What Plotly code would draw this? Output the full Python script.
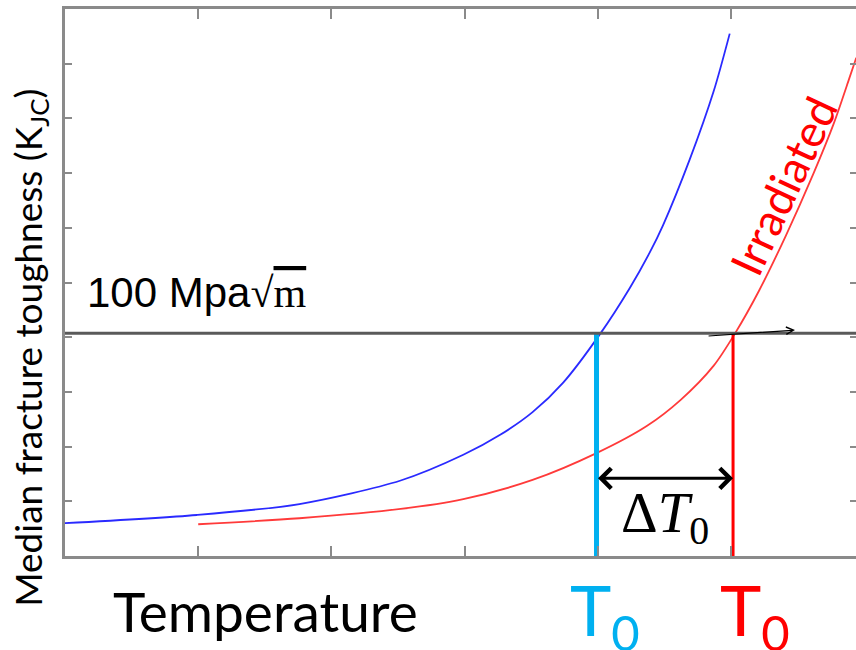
import plotly.graph_objects as go

# ---- data (temperature in tick units, toughness in tick units) ----
T_unirradiated = [0.00, 0.99, 1.76, 2.52, 2.99, 3.27, 3.51, 3.74, 4.02, 4.24, 4.39, 4.49, 4.69, 4.87, 4.99]
K_unirradiated = [0.60, 0.75, 0.95, 1.38, 1.85, 2.22, 2.63, 3.17, 4.07, 4.90, 5.55, 6.05, 7.25, 8.50, 9.55]

T_irradiated = [1.00, 1.76, 2.52, 2.99, 3.51, 3.99, 4.37, 4.62, 4.87, 5.03, 5.21, 5.41, 5.62, 5.77, 5.89, 5.94]
K_irradiated = [0.58, 0.69, 0.86, 1.04, 1.39, 1.88, 2.38, 2.85, 3.48, 4.07, 4.85, 5.85, 7.00, 7.90, 8.75, 9.11]

K_ref = 4.07          # 100 MPa sqrt(m) level
T0_unirr = 3.99
T0_irr = 5.015
K_arrow = 1.42
hand_arrow_T = [4.82, 5.48]
hand_arrow_K = [4.02, 4.13]

x_range = [0, 5.938]
y_range = [0, 10]
tick_vals_x = [0, 1, 2, 3, 4, 5]
tick_vals_y = [1, 2, 3, 4, 5, 6, 7, 8, 9]

CYAN = "#00B0F0"
RED = "#FF0000"
AX = "#8a8a8a"
SANS = "Lato, Liberation Sans, sans-serif"

fig = go.Figure()

# reference level line
fig.add_shape(type="line", xref="paper", x0=0, x1=1, yref="y", y0=K_ref, y1=K_ref,
              line=dict(color="#5a5a5a", width=3), layer="above")

fig.add_trace(go.Scatter(x=T_unirradiated, y=K_unirradiated, mode="lines",
                         line=dict(color="#2a2aff", width=1.8, shape="spline", smoothing=0.8),
                         showlegend=False))
fig.add_trace(go.Scatter(x=T_irradiated, y=K_irradiated, mode="lines",
                         line=dict(color="#ff3a3a", width=1.8, shape="spline", smoothing=0.8),
                         showlegend=False))

# T0 vertical lines
fig.add_trace(go.Scatter(x=[T0_unirr, T0_unirr], y=[0, K_ref], mode="lines",
                         line=dict(color=CYAN, width=5), showlegend=False))
fig.add_trace(go.Scatter(x=[T0_irr, T0_irr], y=[0, K_ref], mode="lines",
                         line=dict(color=RED, width=3), showlegend=False))

# dummy trace for right-side ticks
fig.add_trace(go.Scatter(x=[None], y=[None], yaxis="y2", showlegend=False))

annotations = []
# double arrow for delta T0
annotations.append(dict(x=T0_irr, y=K_arrow, ax=T0_unirr, ay=K_arrow, xref="x", yref="y",
                        axref="x", ayref="y", text="", showarrow=True, arrowhead=4,
                        arrowside="end+start", arrowsize=1.3, arrowwidth=3, arrowcolor="black",
                        startarrowhead=4, startarrowsize=1.3))
# hand-drawn arrow on ref line
annotations.append(dict(x=hand_arrow_T[1], y=hand_arrow_K[1], ax=hand_arrow_T[0], ay=hand_arrow_K[0],
                        xref="x", yref="y", axref="x", ayref="y", text="", showarrow=True,
                        arrowhead=5, arrowsize=1.2, arrowwidth=1.2, arrowcolor="black"))
# delta T0 label
annotations.append(dict(x=(T0_unirr + T0_irr) / 2, y=K_arrow, xref="x", yref="y", yshift=-39,
                        xanchor="center", yanchor="middle",
                        text="Δ<i>T</i><sub>0</sub>", showarrow=False,
                        font=dict(family="Liberation Serif, serif", size=57, color="black")))
# 100 MPa label
annotations.append(dict(x=0.15, y=4.82, xref="x", yref="y", xanchor="left", yanchor="middle",
                        text="100 Mpa<span style='font-family:Liberation Serif'>√<span style='text-decoration:overline'>m</span></span>",
                        showarrow=False,
                        font=dict(family="Liberation Sans, Arial, sans-serif", size=42, color="black")))
# Irradiated label
annotations.append(dict(x=5.39, y=6.77, xref="x", yref="y", text="Irradiated", textangle=-65,
                        xanchor="center", yanchor="middle",
                        showarrow=False, font=dict(family=SANS, size=45, color=RED)))
# T0 labels
annotations.append(dict(x=T0_unirr, y=0, xref="x", yref="y", xshift=8, yshift=-58,
                        xanchor="center", yanchor="middle",
                        text="T<sub>0</sub>", showarrow=False,
                        font=dict(family=SANS, size=70, color=CYAN)))
annotations.append(dict(x=T0_irr, y=0, xref="x", yref="y", xshift=22, yshift=-58,
                        xanchor="center", yanchor="middle",
                        text="T<sub>0</sub>", showarrow=False,
                        font=dict(family=SANS, size=70, color=RED)))
# Temperature label
annotations.append(dict(x=0.2535, y=-0.1005, xref="paper", yref="paper", text="Temperature",
                        xanchor="center", yanchor="middle",
                        showarrow=False, font=dict(family=SANS, size=55, color="black")))
# y title
annotations.append(dict(x=-0.044, y=0.381, xref="paper", yref="paper",
                        xanchor="center", yanchor="middle",
                        text="Median fracture toughness (K<sub>JC</sub>)", textangle=-90,
                        showarrow=False, font=dict(family=SANS, size=37, color="black")))

fig.update_layout(
    width=856, height=650,
    margin=dict(l=65, r=0, t=9, b=94),
    plot_bgcolor="white", paper_bgcolor="white",
    annotations=annotations,
    xaxis=dict(range=x_range, tickvals=tick_vals_x, showticklabels=False, ticks="inside",
               ticklen=10, tickwidth=1.5, tickcolor=AX, showline=True, linecolor=AX,
               linewidth=3, mirror="ticks", showgrid=False, zeroline=False),
    yaxis=dict(range=y_range, tickvals=tick_vals_y, showticklabels=False, ticks="inside",
               ticklen=7, tickwidth=1.5, tickcolor=AX, showline=True, linecolor=AX,
               linewidth=3, showgrid=False, zeroline=False),
    yaxis2=dict(range=y_range, tickvals=tick_vals_y, showticklabels=False, ticks="inside",
                ticklen=6, tickwidth=1.5, tickcolor=AX, overlaying="y", side="right",
                showline=False, showgrid=False, zeroline=False),
)

fig.write_html("out.html")
